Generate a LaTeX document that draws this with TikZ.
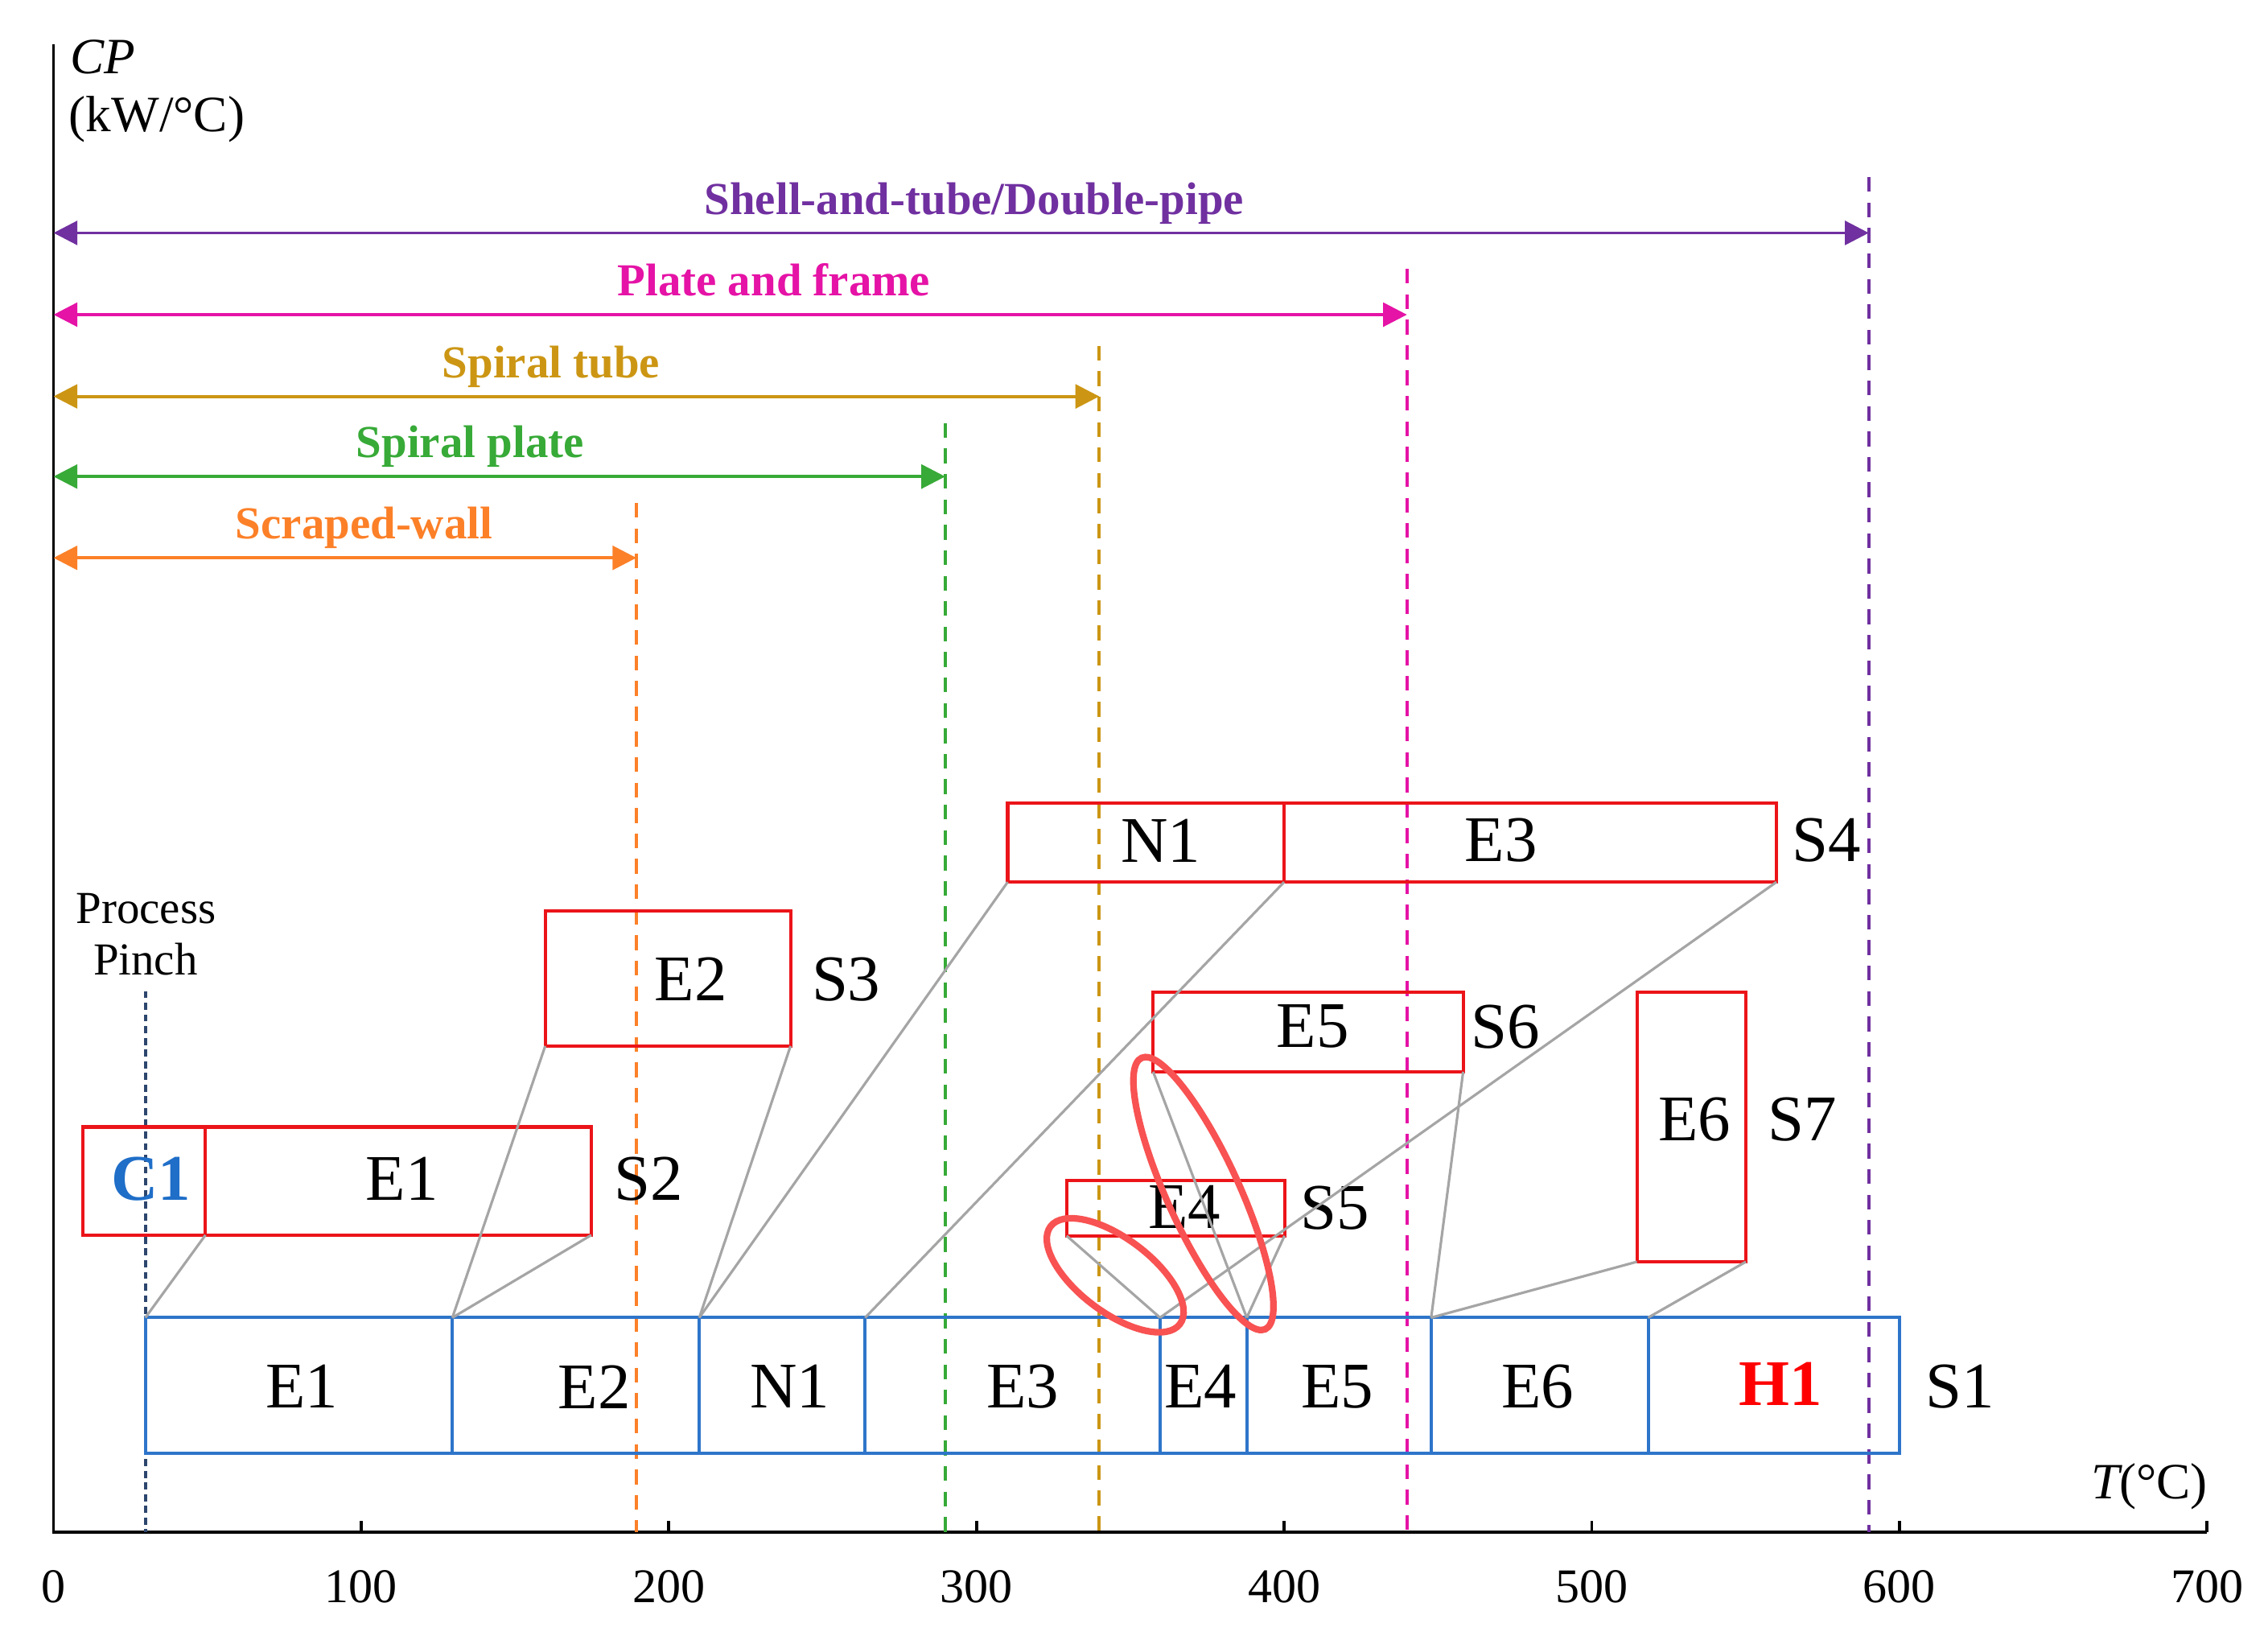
\documentclass[tikz,border=0pt]{standalone}
\usepackage{fontspec}
\setmainfont{Liberation Serif}
\usetikzlibrary{arrows.meta}
\definecolor{cblue}{RGB}{46,117,202}
\definecolor{cblueT}{RGB}{31,110,200}
\definecolor{cred}{RGB}{235,20,25}
\definecolor{chl}{RGB}{248,82,82}
\definecolor{cgray}{RGB}{165,165,165}
\definecolor{cpinch}{RGB}{45,70,110}
\definecolor{cpurple}{RGB}{112,48,160}
\definecolor{cmagenta}{RGB}{229,19,166}
\definecolor{cgold}{RGB}{204,150,20}
\definecolor{cgreen}{RGB}{55,170,55}
\definecolor{corange}{RGB}{252,128,40}
\begin{document}
\begin{tikzpicture}[x=0.01cm,y=-0.01cm,
  bcell/.style={draw=cblue,line width=0.62pt,inner sep=0pt,outer sep=0pt},
  rcell/.style={draw=cred,line width=0.65pt,inner sep=0pt,outer sep=0pt},
  lbl/.style={font=\fontsize{12.8}{14}\selectfont,inner sep=0pt},
  head/.style={font=\fontsize{9}{11}\selectfont\bfseries,inner sep=0pt,anchor=base},
  tick/.style={font=\fontsize{9.5}{11}\selectfont,inner sep=0pt,anchor=base},
  conn/.style={draw=cgray,line width=0.5pt},
  span/.style={line width=0.6pt,{Triangle[length=4.7pt,width=4.7pt]}-{Triangle[length=4.7pt,width=4.7pt]}},
  vdash/.style={line width=0.6pt,dash pattern=on 2.9pt off 2.1pt},
  hl/.style={draw=chl,line width=1.3pt}]
\useasboundingbox (0,0) rectangle (1568,1136);

% axes
\coordinate (ytop) at (37,30.6);
\coordinate (orig) at (37,1059);
\coordinate (xend) at (1526,1059);
\draw[line width=0.6pt] (ytop) -- (orig) -- (xend);
\foreach \k in {1,...,7}{
  \draw[line width=0.6pt] ({37+212.7*\k},1059) -- ({37+212.7*\k},1051);
}
\foreach \k/\t in {0/0,1/100,2/200,3/300,4/400,5/500,6/600,7/700}{
  \node[tick] (tk\k) at ({37+212.7*\k},1107.7) {\t};
}
\node[font=\fontsize{10}{12}\selectfont,inner sep=0pt,anchor=base west] (cp) at (48,51) {\itshape CP};
\node[font=\fontsize{10}{12}\selectfont,inner sep=0pt,anchor=base west] (cpu) at (47,90.8) {(kW/°C)};
\node[font=\fontsize{10}{12}\selectfont,inner sep=0pt,anchor=base east] (tl) at (1527,1036) {\itshape T\upshape(°C)};

% pinch
\node[font=\fontsize{9}{11}\selectfont,inner sep=0pt,anchor=base] (pp1) at (101,638) {Process};
\node[font=\fontsize{9}{11}\selectfont,inner sep=0pt,anchor=base] (pp2) at (100.6,674) {Pinch};
\coordinate (pinT) at (100.6,685);
\coordinate (pinB) at (100.6,1059);
\draw[draw=cpinch,line width=0.55pt,dash pattern=on 1.4pt off 0.9pt] (pinT) -- (pinB);

% ranges
\foreach \n/\c/\xr/\yy/\yt/\tx/\txt in {
  st/cpurple/1292/161/122.4/673.5/Shell-and-tube\slash Double-pipe,
  pf/cmagenta/972.7/217.5/185.8/535/Plate and frame,
  tu/cgold/760/274/239/381/Spiral tube,
  sp/cgreen/653.5/329.4/292.5/325/Spiral plate,
  sw/corange/440/385.6/347.6/251.7/Scraped-wall}{
  \coordinate (\n L) at (37,\yy);
  \coordinate (\n R) at (\xr,\yy);
  \coordinate (\n T) at (\xr,\yt);
  \coordinate (\n B) at (\xr,1059);
  \draw[vdash,draw=\c] (\n T) -- (\n B);
  \draw[span,draw=\c,fill=\c] (\n L) -- (\n R);
  \node[head,text=\c] (\n txt) at (\tx,{\yy-13}) {\txt};
}

% bottom stream S1
\node[bcell,minimum width=2.122cm,minimum height=0.935cm] (bE1) at (206.7,957.55) {};
\node[bcell,minimum width=1.707cm,minimum height=0.935cm] (bE2) at (398.15,957.55) {};
\node[bcell,minimum width=1.147cm,minimum height=0.935cm] (bN1) at (540.85,957.55) {};
\node[bcell,minimum width=2.038cm,minimum height=0.935cm] (bE3) at (700.1,957.55) {};
\node[bcell,minimum width=0.600cm,minimum height=0.935cm] (bE4) at (832,957.55) {};
\node[bcell,minimum width=1.275cm,minimum height=0.935cm] (bE5) at (925.75,957.55) {};
\node[bcell,minimum width=1.500cm,minimum height=0.935cm] (bE6) at (1064.5,957.55) {};
\node[bcell,minimum width=1.738cm,minimum height=0.935cm] (bH1) at (1226.4,957.55) {};
\node[lbl] (tbE1) at (208.6,958.5) {E1};
\node[lbl] (tbE2) at (411,958.5) {E2};
\node[lbl] (tbN1) at (546,958.5) {N1};
\node[lbl] (tbE3) at (707,958.5) {E3};
\node[lbl] (tbE4) at (830,958.5) {E4};
\node[lbl] (tbE5) at (924.6,958.5) {E5};
\node[lbl] (tbE6) at (1063,958.5) {E6};
\node[lbl,font=\fontsize{12.8}{14}\selectfont\bfseries,text=red] (tbH1) at (1231,956.7) {H1};
\node[lbl] (tS1) at (1355,958.5) {S1};

% S2
\node[rcell,minimum width=0.845cm,minimum height=0.747cm] (rC1) at (99.75,816.35) {};
\node[rcell,minimum width=2.667cm,minimum height=0.747cm] (rE1) at (275.35,816.35) {};
\node[lbl,font=\fontsize{12.8}{14}\selectfont\bfseries,text=cblueT] (trC1) at (104.5,815) {C1};
\node[lbl] (trE1) at (278,815) {E1};
\node[lbl] (tS2) at (448.5,815) {S2};
% S3
\node[rcell,minimum width=1.695cm,minimum height=0.932cm] (rE2) at (461.75,676.4) {};
\node[lbl] (trE2) at (477.6,677) {E2};
\node[lbl] (tS3) at (585,677) {S3};
% S4
\node[rcell,minimum width=1.910cm,minimum height=0.547cm] (rN1) at (792.2,582.35) {};
\node[rcell,minimum width=3.403cm,minimum height=0.547cm] (rE3) at (1057.85,582.35) {};
\node[lbl] (trN1) at (802.6,581) {N1};
\node[lbl] (trE3) at (1037.7,581) {E3};
\node[lbl] (tS4) at (1263,581) {S4};
% S6
\node[rcell,minimum width=2.142cm,minimum height=0.550cm] (rE5) at (904.4,713.3) {};
\node[lbl] (trE5) at (907.7,709.6) {E5};
\node[lbl] (tS6) at (1041,710) {S6};
% S5
\node[rcell,minimum width=1.505cm,minimum height=0.380cm] (rE4) at (812.75,835.2) {};
\node[lbl] (trE4) at (819,834) {E4};
\node[lbl] (tS5) at (923,835) {S5};
% S7
\node[rcell,minimum width=0.753cm,minimum height=1.863cm] (rE6) at (1169.35,778.95) {};
\node[lbl] (trE6) at (1171.6,774) {E6};
\node[lbl] (tS7) at (1246,774) {S7};

% connectors
\draw[conn] (rC1.south east) -- (bE1.north west);
\draw[conn] (rE1.south east) -- (bE2.north west);
\draw[conn] (rE2.south west) -- (bE2.north west);
\draw[conn] (rE2.south east) -- (bN1.north west);
\draw[conn] (rN1.south west) -- (bN1.north west);
\draw[conn] (rN1.south east) -- (bE3.north west);
\draw[conn] (rE3.south east) -- (bE4.north west);
\draw[conn] (rE4.south west) -- (bE4.north west);
\draw[conn] (rE4.south east) -- (bE5.north west);
\draw[conn] (rE5.south west) -- (bE5.north west);
\draw[conn] (rE5.south east) -- (bE6.north west);
\draw[conn] (rE6.south west) -- (bE6.north west);
\draw[conn] (rE6.south east) -- (bH1.north west);

% highlight ellipses
\draw[hl,shift={(771,881.5)},rotate=-37] (0,0) ellipse [x radius=0.56cm,y radius=0.255cm];
\draw[hl,shift={(832,825)},rotate=-65.5] (0,0) ellipse [x radius=1.03cm,y radius=0.25cm];
\end{tikzpicture}
\end{document}
